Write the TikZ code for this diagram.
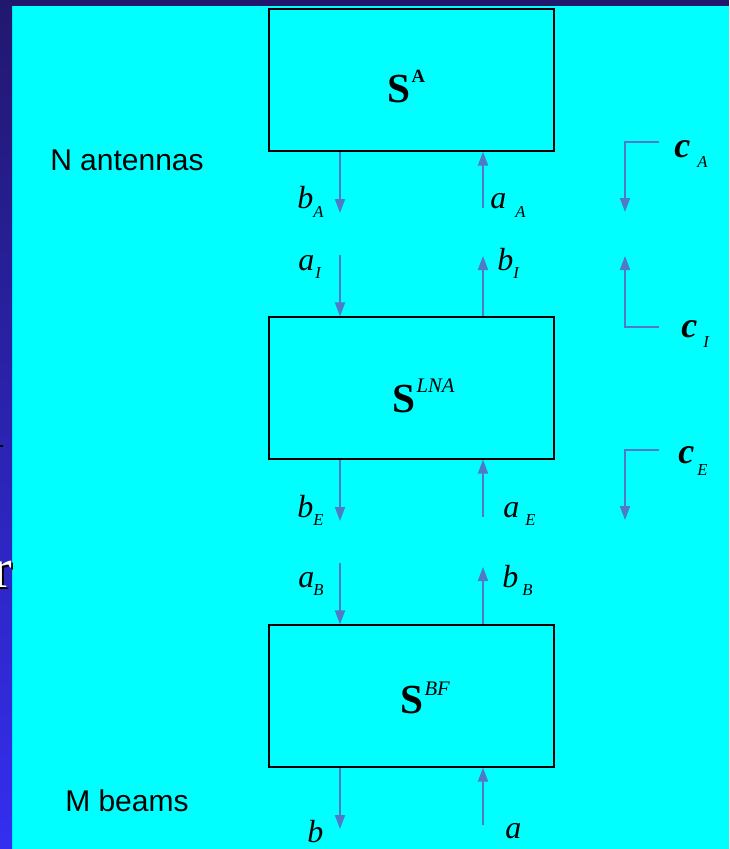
\documentclass[tikz,border=0pt]{standalone}
\usepackage{fontspec}
\setmainfont{Liberation Serif}
\newfontfamily\arialf{Liberation Sans}
\usetikzlibrary{arrows.meta,calc}
\definecolor{cyanbg}{RGB}{0,255,255}
\definecolor{navytop}{RGB}{33,24,110}
\definecolor{navybot}{RGB}{52,46,240}
\definecolor{arrowblue}{RGB}{78,122,200}
\begin{document}
\begin{tikzpicture}[x=0.75pt,y=-0.75pt,
  box/.style={draw=black, line width=0.9pt, minimum width=213.75pt, minimum height=106.5pt, inner sep=0pt},
  sig/.style={draw=arrowblue, line width=1.4pt, -{Triangle[length=10.5pt,width=7.5pt]}},
  lab/.style={inner sep=0pt, anchor=base west, font=\fontsize{24}{28}\selectfont\itshape},
  sublab/.style={inner sep=0pt, anchor=base west, font=\fontsize{12.5}{14}\selectfont\itshape},
  clab/.style={inner sep=0pt, anchor=base west, font=\fontsize{27}{30}\selectfont\bfseries\itshape},
  side/.style={inner sep=0pt, anchor=base west, font=\arialf\fontsize{22.5}{26}\selectfont},
  stitle/.style={inner sep=0pt, anchor=base west, font=\fontsize{31}{34}\selectfont\bfseries}]
\useasboundingbox (0,0) rectangle (729,849);
% background
\fill[cyanbg] (0,0) rectangle (729,849);
\shade[top color=navytop, bottom color=navybot] (0,0) rectangle (12,849);
\fill[navytop] (0,0) rectangle (729,6);
\begin{scope}
  \clip (0,0) rectangle (12,849);
  \node[inner sep=0pt, anchor=base west, font=\fontsize{42}{46}\selectfont, text=black] (rfragS) at (-5,589) {r};
  \node[inner sep=0pt, anchor=base west, font=\fontsize{42}{46}\selectfont, text=white] (rfrag) at (-7,587) {r};
  \draw[black, line width=0.8pt] (0,446) -- (2.5,446);
\end{scope}
% column coordinates
\coordinate (lx) at (340,0);
\coordinate (rx) at (483,0);
% boxes
\node[box] (SA) at (411.5,80) {};
\node[box] (SLNA) at (411.5,388) {};
\node[box] (SBF) at (411.5,696) {};
\node[stitle] (tA) at (387,103) {S\kern1pt\raisebox{15pt}{\fontsize{14}{16}\selectfont A}};
\node[stitle] (tLNA) at (392,412) {S\kern1pt\raisebox{15pt}{\fontsize{15.5}{17}\selectfont\mdseries\itshape LNA}};
\node[stitle] (tBF) at (400,713) {S\kern1pt\raisebox{13pt}{\fontsize{15.5}{17}\selectfont\mdseries\itshape BF}};
% side labels
\node[side] (nant) at (50,170) {N antennas};
\node[side] (mbeams) at (65,811) {M beams};
% end coordinates of arrows
\coordinate (bAend) at (340,213);
\coordinate (aAstart) at (483,208);
\coordinate (aIstart) at (340,255);
\coordinate (bIend) at (483,256);
\coordinate (bEend) at (340,521);
\coordinate (aEstart) at (483,517);
\coordinate (aBstart) at (340,563);
\coordinate (bBend) at (483,567);
\coordinate (bend) at (340,829);
\coordinate (astart) at (483,825);
% arrows
\draw[sig] (SA.south -| lx) -- (bAend);
\draw[sig] (aAstart) -- (SA.south -| rx);
\draw[sig] (aIstart) -- (SLNA.north -| lx);
\draw[sig] (SLNA.north -| rx) -- (bIend);
\draw[sig] (SLNA.south -| lx) -- (bEend);
\draw[sig] (aEstart) -- (SLNA.south -| rx);
\draw[sig] (aBstart) -- (SBF.north -| lx);
\draw[sig] (SBF.north -| rx) -- (bBend);
\draw[sig] (SBF.south -| lx) -- (bend);
\draw[sig] (astart) -- (SBF.south -| rx);
% c arrows
\coordinate (cAa) at (659,142);
\coordinate (cAb) at (625,212);
\coordinate (cIa) at (659,327);
\coordinate (cIb) at (625,256);
\coordinate (cEa) at (659,450);
\coordinate (cEb) at (625,520);
\draw[sig] (cAa) -| (cAb);
\draw[sig] (cIa) -| (cIb);
\draw[sig] (cEa) -| (cEb);
% labels
\node[lab] (lbA) at (297,208) {b};   \node[sublab] (lbAs) at (313,217) {A};
\node[lab] (laA) at (490,208) {a};   \node[sublab] (laAs) at (515,217) {A};
\node[lab] (laI) at (298,270) {a};   \node[sublab] (laIs) at (315,278) {I};
\node[lab] (lbI) at (497,270) {b};   \node[sublab] (lbIs) at (513,278) {I};
\node[lab] (lbE) at (297,517) {b};   \node[sublab] (lbEs) at (313,525) {E};
\node[lab] (laE) at (503,517) {a};   \node[sublab] (laEs) at (525,525) {E};
\node[lab] (laB) at (298,587) {a};   \node[sublab] (laBs) at (313,595) {B};
\node[lab] (lbB) at (502,587) {b};   \node[sublab] (lbBs) at (522,595) {B};
\node[lab] (lb) at (307,842) {b};
\node[lab] (la) at (505,838) {a};
\node[clab] (lcA) at (674,157) {c};  \node[sublab] (lcAs) at (697,167) {A};
\node[clab] (lcI) at (681,337) {c};  \node[sublab] (lcIs) at (703,347) {I};
\node[clab] (lcE) at (678,463) {c};  \node[sublab] (lcEs) at (697,475) {E};
\end{tikzpicture}
\end{document}
